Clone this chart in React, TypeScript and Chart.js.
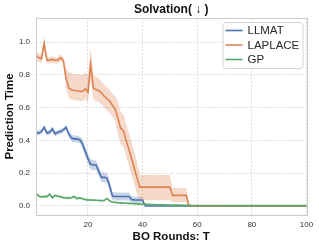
import React, { useEffect, useRef } from "react";
import { Chart, registerables } from "chart.js";

Chart.register(...registerables);

const rounds = Array.from({ length: 100 }, (_, i) => i + 1);
const xTicks = [20, 40, 60, 80, 100];
const yTicks = [0, 0.2, 0.4, 0.6, 0.8, 1.0];
const seriesNames = ["LLMAT", "LAPLACE", "GP"];
const chartTitle = "Solvation( ↓ )";

const llmatMean = [
  0.45, 0.445, 0.455, 0.48, 0.445, 0.45, 0.47, 0.44, 0.45, 0.455,
  0.465, 0.48, 0.44, 0.415, 0.41, 0.41, 0.405, 0.38, 0.335, 0.29,
  0.255, 0.25, 0.25, 0.21, 0.175, 0.175, 0.17, 0.12, 0.06, 0.058,
  0.058, 0.058, 0.058, 0.058, 0.058, 0.04, 0.037, 0.037, 0.037, 0.037,
  0, 0, 0, 0, 0, 0, 0, 0, 0, 0,
  0, 0, 0, 0, 0, 0, 0, 0, 0, 0,
  0, 0, 0, 0, 0, 0, 0, 0, 0, 0,
  0, 0, 0, 0, 0, 0, 0, 0, 0, 0,
  0, 0, 0, 0, 0, 0, 0, 0, 0, 0,
  0, 0, 0, 0, 0, 0, 0, 0, 0, 0,
];
const llmatStd = [
  0.015, 0.015, 0.015, 0.015, 0.015, 0.015, 0.015, 0.015, 0.015, 0.015,
  0.015, 0.015, 0.02, 0.02, 0.02, 0.02, 0.02, 0.03, 0.03, 0.03,
  0.03, 0.03, 0.03, 0.03, 0.03, 0.03, 0.03, 0.03, 0.025, 0.025,
  0.025, 0.025, 0.025, 0.025, 0.025, 0.02, 0.02, 0.02, 0.02, 0.02,
  0, 0, 0, 0, 0, 0, 0, 0, 0, 0,
  0, 0, 0, 0, 0, 0, 0, 0, 0, 0,
  0, 0, 0, 0, 0, 0, 0, 0, 0, 0,
  0, 0, 0, 0, 0, 0, 0, 0, 0, 0,
  0, 0, 0, 0, 0, 0, 0, 0, 0, 0,
  0, 0, 0, 0, 0, 0, 0, 0, 0, 0,
];

const laplaceMean = [
  0.92, 0.905, 0.9, 0.99, 0.89, 0.89, 0.895, 0.89, 0.89, 0.905,
  0.89, 0.78, 0.72, 0.71, 0.705, 0.705, 0.7, 0.7, 0.715, 0.695,
  0.865, 0.72, 0.71, 0.705, 0.69, 0.67, 0.655, 0.64, 0.615, 0.59,
  0.535, 0.475, 0.46, 0.4, 0.345, 0.29, 0.23, 0.17, 0.115, 0.115,
  0.115, 0.115, 0.115, 0.115, 0.115, 0.115, 0.115, 0.115, 0.115, 0.115,
  0.065, 0.065, 0.065, 0.065, 0.065, 0.065, 0, 0, 0, 0,
  0, 0, 0, 0, 0, 0, 0, 0, 0, 0,
  0, 0, 0, 0, 0, 0, 0, 0, 0, 0,
  0, 0, 0, 0, 0, 0, 0, 0, 0, 0,
  0, 0, 0, 0, 0, 0, 0, 0, 0, 0,
];
const laplaceUpper = [
  0.945, 0.93, 0.925, 1.04, 0.91, 0.91, 0.915, 0.91, 0.91, 0.925,
  0.91, 0.84, 0.82, 0.81, 0.805, 0.805, 0.8, 0.8, 0.815, 0.795,
  0.97, 0.8, 0.79, 0.78, 0.76, 0.74, 0.725, 0.71, 0.685, 0.67,
  0.635, 0.575, 0.56, 0.5, 0.445, 0.39, 0.33, 0.27, 0.19, 0.19,
  0.19, 0.19, 0.19, 0.19, 0.19, 0.19, 0.19, 0.19, 0.19, 0.19,
  0.11, 0.11, 0.11, 0.11, 0.11, 0.11, 0, 0, 0, 0,
  0, 0, 0, 0, 0, 0, 0, 0, 0, 0,
  0, 0, 0, 0, 0, 0, 0, 0, 0, 0,
  0, 0, 0, 0, 0, 0, 0, 0, 0, 0,
  0, 0, 0, 0, 0, 0, 0, 0, 0, 0,
];
const laplaceLower = [
  0.895, 0.88, 0.875, 0.95, 0.87, 0.87, 0.875, 0.87, 0.87, 0.885,
  0.87, 0.72, 0.66, 0.65, 0.645, 0.645, 0.64, 0.64, 0.655, 0.635,
  0.77, 0.65, 0.64, 0.635, 0.62, 0.6, 0.585, 0.57, 0.545, 0.52,
  0.435, 0.375, 0.36, 0.3, 0.245, 0.19, 0.13, 0.07, 0.035, 0.035,
  0.035, 0.035, 0.035, 0.035, 0.035, 0.035, 0.035, 0.035, 0.035, 0.035,
  0.025, 0.025, 0.025, 0.025, 0.025, 0.025, 0, 0, 0, 0,
  0, 0, 0, 0, 0, 0, 0, 0, 0, 0,
  0, 0, 0, 0, 0, 0, 0, 0, 0, 0,
  0, 0, 0, 0, 0, 0, 0, 0, 0, 0,
  0, 0, 0, 0, 0, 0, 0, 0, 0, 0,
];

const gpMean = [
  0.078, 0.06, 0.055, 0.058, 0.057, 0.072, 0.05, 0.065, 0.06, 0.057,
  0.05, 0.05, 0.048, 0.05, 0.058, 0.045, 0.05, 0.044, 0.04, 0.037,
  0.037, 0.036, 0.035, 0.034, 0.033, 0.034, 0.046, 0.03, 0.024, 0.022,
  0.02, 0.019, 0.018, 0.017, 0.016, 0.015, 0.014, 0.013, 0.012, 0.011,
  0.01, 0.01, 0.009, 0.009, 0.008, 0.008, 0.007, 0.007, 0.006, 0.006,
  0.005, 0.005, 0.005, 0.004, 0.004, 0.004, 0.004, 0.003, 0.003, 0.003,
  0.003, 0.003, 0.003, 0.003, 0.003, 0.003, 0.003, 0.003, 0.003, 0.003,
  0.002, 0.002, 0.002, 0.002, 0.002, 0.002, 0.002, 0.002, 0.002, 0.002,
  0.002, 0.002, 0.002, 0.002, 0.002, 0.002, 0.002, 0.002, 0.002, 0.002,
  0.002, 0.002, 0.002, 0.002, 0.002, 0.002, 0.002, 0.002, 0.002, 0.002,
];
const gpStd = [
  0.008, 0.008, 0.008, 0.008, 0.008, 0.008, 0.008, 0.008, 0.008, 0.008,
  0.008, 0.008, 0.008, 0.008, 0.008, 0.008, 0.008, 0.008, 0.008, 0.008,
  0.005, 0.005, 0.005, 0.005, 0.005, 0.005, 0.005, 0.005, 0.005, 0.005,
  0.005, 0.005, 0.005, 0.005, 0.005, 0.005, 0.005, 0.005, 0.005, 0.005,
  0.003, 0.003, 0.003, 0.003, 0.003, 0.003, 0.003, 0.003, 0.003, 0.003,
  0.003, 0.003, 0.003, 0.003, 0.003, 0.003, 0.003, 0.003, 0.003, 0.003,
  0.002, 0.002, 0.002, 0.002, 0.002, 0.002, 0.002, 0.002, 0.002, 0.002,
  0.002, 0.002, 0.002, 0.002, 0.002, 0.002, 0.002, 0.002, 0.002, 0.002,
  0.002, 0.002, 0.002, 0.002, 0.002, 0.002, 0.002, 0.002, 0.002, 0.002,
  0.002, 0.002, 0.002, 0.002, 0.002, 0.002, 0.002, 0.002, 0.002, 0.002,
];

const COLORS = ["#4c72b0", "#dd8452", "#55a868"];
const BANDS = ["rgba(76,114,176,0.3)", "rgba(221,132,82,0.3)", "rgba(85,168,104,0.3)"];
const FONT = "'Liberation Sans', Arial, sans-serif";

const toPts = (arr: number[]) => arr.map((y, i) => ({ x: rounds[i], y }));

function buildDatasets() {
  const series = [
    { mean: llmatMean, lo: llmatMean.map((m, i) => Math.max(0, m - llmatStd[i])), hi: llmatMean.map((m, i) => m + llmatStd[i]) },
    { mean: laplaceMean, lo: laplaceLower, hi: laplaceUpper },
    { mean: gpMean, lo: gpMean.map((m, i) => m - gpStd[i]), hi: gpMean.map((m, i) => m + gpStd[i]) },
  ];
  const ds: any[] = [];
  series.forEach((s, k) => {
    ds.push({
      label: seriesNames[k] + " lo",
      data: toPts(s.lo),
      borderWidth: 0,
      pointRadius: 0,
      fill: false,
      borderColor: "rgba(0,0,0,0)",
    });
    ds.push({
      label: seriesNames[k] + " hi",
      data: toPts(s.hi),
      borderWidth: 0,
      pointRadius: 0,
      fill: "-1",
      backgroundColor: BANDS[k],
      borderColor: "rgba(0,0,0,0)",
    });
    ds.push({
      label: seriesNames[k],
      data: toPts(s.mean),
      borderWidth: 1.6,
      pointRadius: 0,
      fill: false,
      borderColor: COLORS[k],
      tension: 0,
    });
  });
  ds.forEach((d, i) => (d.order = -i));
  return ds;
}

const framePlugin = {
  id: "frame",
  afterDatasetsDraw(chart: any) {
    const { ctx, chartArea: a } = chart;
    ctx.save();
    ctx.strokeStyle = "#cccccc";
    ctx.lineWidth = 1;
    ctx.strokeRect(Math.round(a.left) + 0.5, Math.round(a.top) + 0.5, Math.round(a.right - a.left), Math.round(a.bottom - a.top));
    ctx.restore();
  },
};

const titlePlugin = {
  id: "axesTitle",
  afterDraw(chart: any) {
    const { ctx, chartArea: a } = chart;
    ctx.save();
    ctx.font = "bold 12px " + FONT;
    ctx.fillStyle = "#111111";
    ctx.textAlign = "center";
    ctx.textBaseline = "middle";
    ctx.fillText(chartTitle, (a.left + a.right) / 2, a.top - 8);
    ctx.restore();
  },
};

const legendPlugin = {
  id: "boxLegend",
  afterDraw(chart: any) {
    const { ctx, chartArea: a } = chart;
    ctx.save();
    const w = 80;
    const h = 46;
    const x0 = a.right - 4 - w;
    const y0 = a.top + 4;
    ctx.beginPath();
    ctx.roundRect(x0 + 0.5, y0 + 0.5, w, h, 3);
    ctx.fillStyle = "rgba(255,255,255,0.85)";
    ctx.fill();
    ctx.strokeStyle = "#d6d6d6";
    ctx.lineWidth = 1;
    ctx.stroke();
    ctx.font = "11.5px " + FONT;
    ctx.textBaseline = "middle";
    seriesNames.forEach((name, i) => {
      const y = y0 + 8.5 + i * 14.5;
      ctx.strokeStyle = COLORS[i];
      ctx.lineWidth = 1.6;
      ctx.beginPath();
      ctx.moveTo(x0 + 3, y);
      ctx.lineTo(x0 + 20, y);
      ctx.stroke();
      ctx.fillStyle = "#262626";
      ctx.fillText(name, x0 + 25, y + 0.5);
    });
    ctx.restore();
  },
};

export default function App() {
  const ref = useRef<HTMLCanvasElement | null>(null);
  useEffect(() => {
    document.body.style.margin = "0";
    const canvas = ref.current;
    if (!canvas) return;
    const chart = new Chart(canvas, {
      type: "line",
      data: { datasets: buildDatasets() },
      options: {
        responsive: false,
        animation: false,
        devicePixelRatio: 1,
        layout: { padding: { left: 0, right: 12.5, top: 18, bottom: 0 } },
        plugins: {
          legend: { display: false },
          tooltip: { enabled: false },
          title: { display: false },
        },
        scales: {
          x: {
            type: "linear",
            min: 1,
            max: 100,
            afterBuildTicks: (s: any) => {
              s.ticks = xTicks.map((v) => ({ value: v }));
            },
            afterFit: (s: any) => {
              s.height = 33;
            },
            ticks: {
              color: "#333333",
              font: { family: FONT, size: 8 },
              padding: 5,
              maxRotation: 0,
              callback: (v: any) => String(v),
            },
            grid: { color: "#dcdcdc", drawTicks: false, lineWidth: 1 },
            border: { display: false, dash: [2, 1.5] },
            title: {
              display: true,
              text: "BO Rounds: T",
              color: "#111111",
              font: { family: FONT, size: 11.5, weight: "bold" },
              padding: { top: 0, bottom: 4 },
            },
          },
          y: {
            type: "linear",
            min: -0.055,
            max: 1.148,
            afterBuildTicks: (s: any) => {
              s.ticks = yTicks.map((v) => ({ value: v }));
            },
            afterFit: (s: any) => {
              s.width = 36;
            },
            ticks: {
              color: "#333333",
              font: { family: FONT, size: 8 },
              padding: 6,
              callback: (v: any) => Number(v).toFixed(1),
            },
            grid: { color: "#dcdcdc", drawTicks: false, lineWidth: 1 },
            border: { display: false, dash: [2, 1.5] },
            title: {
              display: true,
              text: "Prediction Time",
              color: "#111111",
              font: { family: FONT, size: 11.5, weight: "bold" },
              padding: { top: 3, bottom: 0 },
            },
          },
        },
      },
      plugins: [framePlugin, titlePlugin, legendPlugin],
    } as any);
    return () => chart.destroy();
  }, []);
  return (
    <div style={{ width: 319, height: 248 }}>
      <canvas ref={ref} width={319} height={248} style={{ display: "block" }} />
    </div>
  );
}
